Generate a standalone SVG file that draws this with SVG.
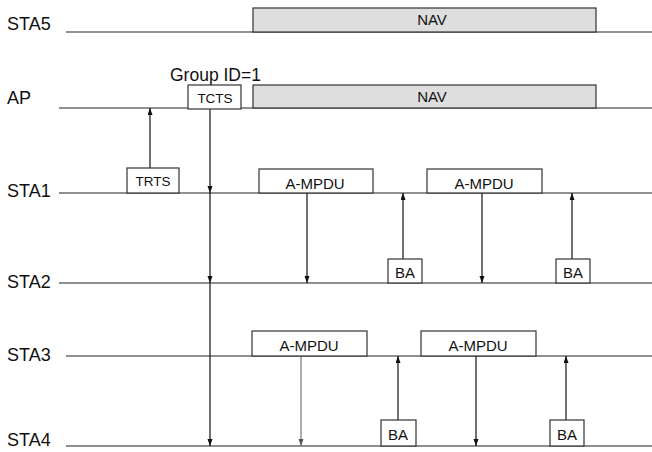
<svg xmlns="http://www.w3.org/2000/svg" width="652" height="452" viewBox="0 0 652 452">
<style>
text{font-family:"Liberation Sans",Arial,sans-serif;fill:#111}
.lbl{font-size:18px}
.bt{font-size:15px;text-anchor:middle}
.tl{stroke:#222;stroke-width:1.2;fill:none}
.box{fill:#fff;stroke:#333;stroke-width:1.2}
.nav{fill:#dedede;stroke:#333;stroke-width:1.2}
.ar{stroke:#111;stroke-width:1.2;fill:none;marker-end:url(#ah)}
.arg{stroke:#777;stroke-width:1.2;fill:none;marker-end:url(#ahg)}
</style>
<defs>
<marker id="ah" markerUnits="userSpaceOnUse" markerWidth="8" markerHeight="6" refX="7" refY="2.5" orient="auto"><path d="M0,0 L7,2.5 L0,5 z" fill="#111"/></marker>
<marker id="ahg" markerUnits="userSpaceOnUse" markerWidth="8" markerHeight="6" refX="7" refY="2.5" orient="auto"><path d="M0,0 L7,2.5 L0,5 z" fill="#555"/></marker>
</defs>
<rect width="652" height="452" fill="#fff"/>
<g id="timelines">
<text class="lbl" x="7" y="30">STA5</text>
<line class="tl" x1="66" y1="32" x2="652" y2="32"/>
<text class="lbl" x="7" y="104">AP</text>
<line class="tl" x1="59" y1="108" x2="652" y2="108"/>
<text class="lbl" x="7" y="197">STA1</text>
<line class="tl" x1="59" y1="193" x2="652" y2="193"/>
<text class="lbl" x="7" y="288">STA2</text>
<line class="tl" x1="59" y1="283" x2="652" y2="283"/>
<text class="lbl" x="7" y="361">STA3</text>
<line class="tl" x1="66" y1="356" x2="652" y2="356"/>
<text class="lbl" x="7" y="446">STA4</text>
<line class="tl" x1="66" y1="446" x2="652" y2="446"/>
</g>
<g id="connectors">
<line class="ar" x1="150" y1="168" x2="150" y2="108"/>
<line class="ar" x1="210" y1="109" x2="210" y2="193"/>
<line class="ar" x1="210" y1="193" x2="210" y2="283"/>
<line class="ar" x1="210" y1="283" x2="210" y2="446"/>
<line class="ar" x1="307" y1="193" x2="307" y2="283"/>
<line class="ar" x1="403" y1="259" x2="403" y2="193"/>
<line class="ar" x1="482" y1="193" x2="482" y2="283"/>
<line class="ar" x1="572" y1="259" x2="572" y2="193"/>
<line class="arg" x1="301" y1="356" x2="301" y2="446"/>
<line class="ar" x1="398" y1="420" x2="398" y2="356"/>
<line class="ar" x1="476" y1="356" x2="476" y2="446"/>
<line class="ar" x1="566" y1="420" x2="566" y2="356"/>
</g>
<g id="nav-sta5"><rect class="nav" x="253" y="8" width="343" height="24"/><text class="bt" x="432" y="25">NAV</text></g>
<g id="nav-ap"><rect class="nav" x="253" y="85" width="343" height="23"/><text class="bt" x="432" y="102">NAV</text></g>
<g id="group-id"><text class="lbl" x="170" y="81" style="font-size:17.5px">Group ID=1</text></g>
<g id="tcts"><rect class="box" x="188" y="85" width="53" height="24"/><text class="bt" x="215" y="103" style="font-size:13.5px">TCTS</text></g>
<g id="trts"><rect class="box" x="127" y="168" width="52" height="25"/><text class="bt" x="153" y="186" style="font-size:13.5px">TRTS</text></g>
<g id="ampdu-sta1-1"><rect class="box" x="259" y="169" width="114" height="24"/><text class="bt" x="315" y="189">A-MPDU</text></g>
<g id="ba-sta2-1"><rect class="box" x="388" y="259" width="34" height="24"/><text class="bt" x="405" y="278">BA</text></g>
<g id="ampdu-sta1-2"><rect class="box" x="427" y="169" width="115" height="24"/><text class="bt" x="484" y="189">A-MPDU</text></g>
<g id="ba-sta2-2"><rect class="box" x="556" y="259" width="34" height="24"/><text class="bt" x="573" y="278">BA</text></g>
<g id="ampdu-sta3-1"><rect class="box" x="252" y="331" width="115" height="25"/><text class="bt" x="309" y="351">A-MPDU</text></g>
<g id="ba-sta4-1"><rect class="box" x="381" y="420" width="35" height="26"/><text class="bt" x="398" y="440">BA</text></g>
<g id="ampdu-sta3-2"><rect class="box" x="421" y="331" width="115" height="25"/><text class="bt" x="478" y="351">A-MPDU</text></g>
<g id="ba-sta4-2"><rect class="box" x="550" y="420" width="34" height="26"/><text class="bt" x="567" y="440">BA</text></g>
</svg>
